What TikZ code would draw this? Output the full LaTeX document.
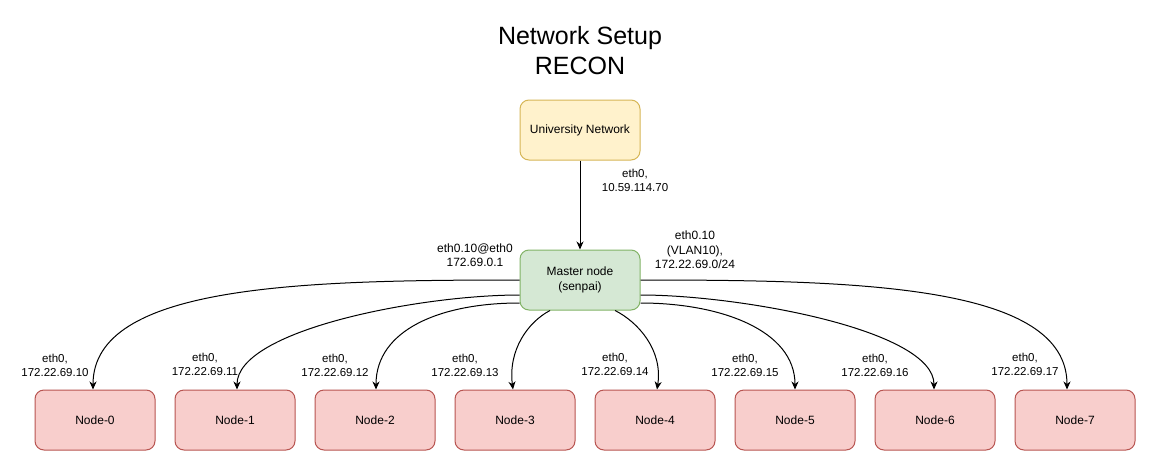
\documentclass[tikz,border=0pt]{standalone}
\usepackage{fontspec}
\setmainfont{Liberation Sans}
\usetikzlibrary{arrows.meta,calc}
\definecolor{uniFill}{HTML}{FFF2CC}
\definecolor{uniLine}{HTML}{D6B656}
\definecolor{masFill}{HTML}{D5E8D4}
\definecolor{masLine}{HTML}{82B366}
\definecolor{wrkFill}{HTML}{F8CECC}
\definecolor{wrkLine}{HTML}{B85450}
\begin{document}
\begin{tikzpicture}[x=1pt,y=-1pt,
  box/.style={draw, rounded corners=9pt, minimum width=120pt, minimum height=60pt,
    inner sep=0pt, line width=1pt, align=center, font=\fontsize{12}{14.4}\selectfont},
  uni/.style={box, fill=uniFill, draw=uniLine},
  master/.style={box, fill=masFill, draw=masLine},
  worker/.style={box, fill=wrkFill, draw=wrkLine},
  lbl/.style={align=center, inner sep=0pt, font=\fontsize{11.5}{14}\selectfont},
  lbltwelve/.style={align=center, inner sep=0pt, font=\fontsize{12}{14.5}\selectfont},
  link/.style={line width=1pt, -{Stealth[length=8pt,width=7pt,inset=2.5pt]}}
]
\fill[white] (0,0) rectangle (1156,471);
\useasboundingbox (0,0) rectangle (1156,471);

\node[align=center, inner sep=0pt, font=\fontsize{25}{30}\selectfont] (title) at (580,51) {Network Setup\\RECON};

\node[uni] (uni) at (580,130) {University Network};
\node[master] (m) at (580,280) {Master node\\(senpai)};
\foreach \i in {0,...,7} {
  \node[worker] (n\i) at (95+140*\i,420) {Node-\i};
}

\draw[link] (uni) -- (m);

\draw[link] (m.west) .. controls (300,280) and (93,285) .. ($(n0.north)+(-2,0)$);
\draw[link] ($(m.west)+(0,15)$) .. controls (420,295) and (237,330) .. ($(n1.north)+(2,0)$);
\draw[link] ($(m.west)+(0,23)$) .. controls (440,303) and (376,330) .. ($(n2.north)+(1,0)$);
\draw[link] ($(m.south)+(-30,0)$) .. controls (528,322) and (508,350) .. ($(n3.north)+(-2,0)$);
\draw[link] ($(m.south)+(35,0)$) .. controls (638,322) and (663,350) .. ($(n4.north)+(2,0)$);
\draw[link] ($(m.east)+(0,23)$) .. controls (720,303) and (795,330) .. (n5.north);
\draw[link] ($(m.east)+(0,15)$) .. controls (740,295) and (934,330) .. ($(n6.north)+(-1,0)$);
\draw[link] (m.east) .. controls (860,280) and (1067,285) .. ($(n7.north)+(-8,0)$);

\node[lbl] (luni) at (635,180) {eth0,\\10.59.114.70};
\node[lbltwelve] (lmleft) at (475,255) {eth0.10@eth0\\172.69.0.1};
\node[lbltwelve] (lmright) at (695,250) {eth0.10\\(VLAN10),\\172.22.69.0/24};

\node[lbl] (l0) at (55,365) {eth0,\\172.22.69.10};
\node[lbl] (l1) at (205,364) {eth0,\\172.22.69.11};
\node[lbl] (l2) at (335,365) {eth0,\\172.22.69.12};
\node[lbl] (l3) at (465,365) {eth0,\\172.22.69.13};
\node[lbl] (l4) at (615,364) {eth0,\\172.22.69.14};
\node[lbl] (l5) at (745,365) {eth0,\\172.22.69.15};
\node[lbl] (l6) at (875,365) {eth0,\\172.22.69.16};
\node[lbl] (l7) at (1025,364) {eth0,\\172.22.69.17};
\end{tikzpicture}
\end{document}
